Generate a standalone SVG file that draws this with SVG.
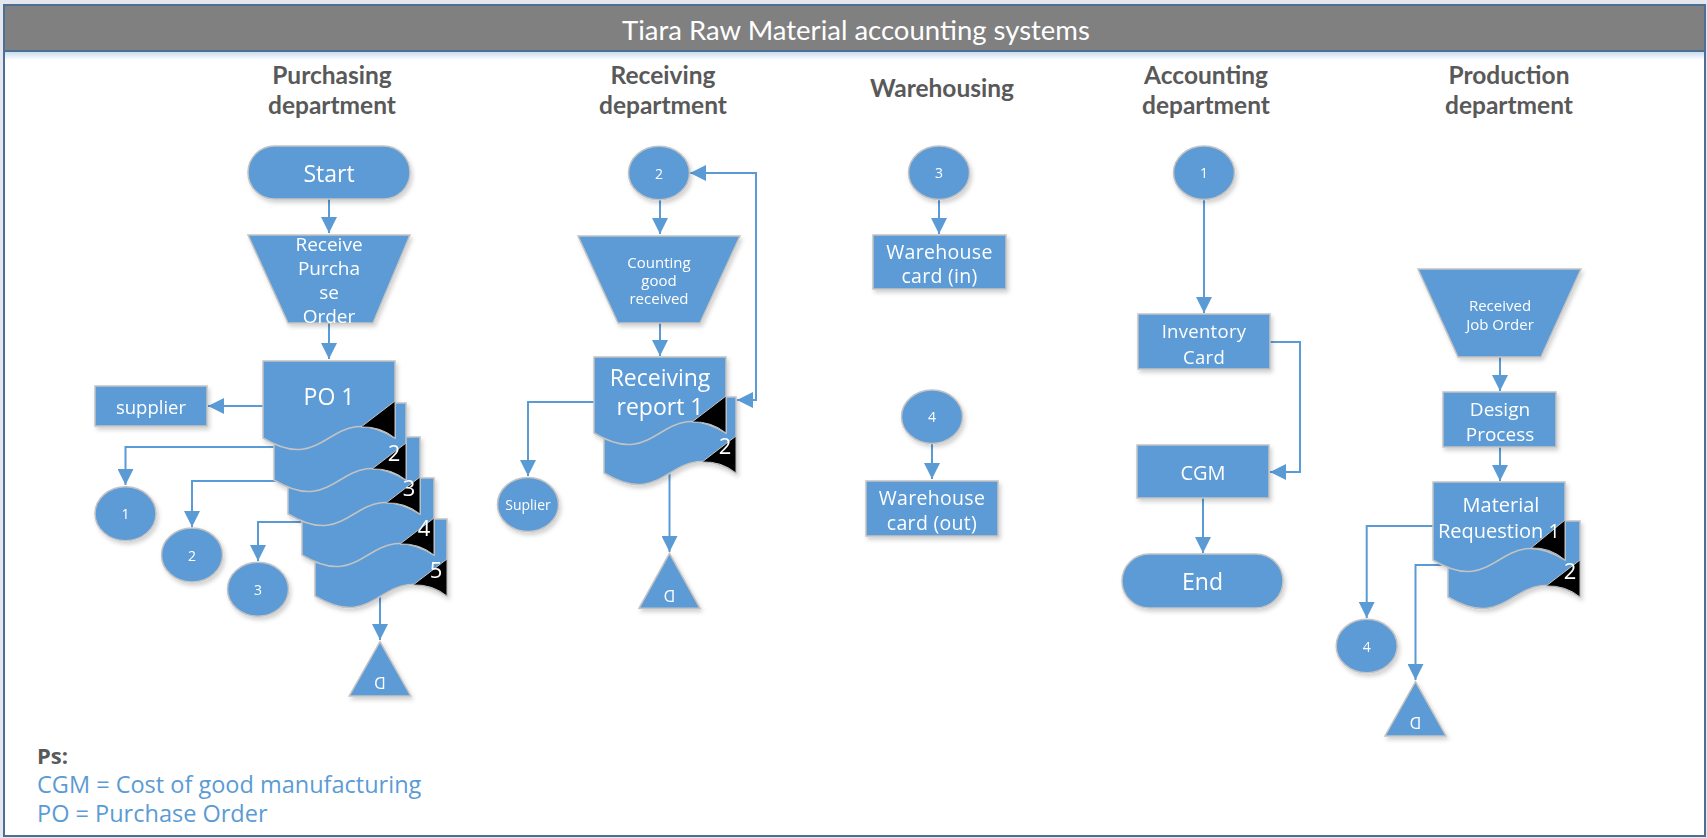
<svg xmlns="http://www.w3.org/2000/svg" width="1707" height="838" viewBox="0 0 1707 838">
<defs>
<style>
.n{fill:#5b9bd5;stroke:#c3c3c3;stroke-width:1.5}
.blk{fill:#000;stroke:#c3c3c3;stroke-width:1}
.t{font-family:"Open Sans","Noto Sans",sans-serif;fill:#fff;text-anchor:middle;dominant-baseline:central}
.bx{font-size:19.5px;letter-spacing:0.3px}
.h{font-family:Lato,"Liberation Sans",sans-serif;font-weight:bold;fill:#595959;text-anchor:middle;font-size:24.5px}
.c{fill:none;stroke:#5b9bd5;stroke-width:2}
.leg{font-family:"Open Sans","Noto Sans",sans-serif;font-size:23.5px;fill:#5b9bd5}
</style>
<marker id="ah" markerUnits="userSpaceOnUse" markerWidth="16" markerHeight="16" refX="14" refY="7" orient="auto-start-reverse" viewBox="0 0 14 14">
<path d="M0,0 L14,7 L0,14 Z" fill="#5b9bd5"/>
</marker>
<filter id="sh" x="-20%" y="-20%" width="140%" height="140%">
<feDropShadow dx="2" dy="3" stdDeviation="2" flood-color="#000" flood-opacity="0.18"/>
</filter>
<linearGradient id="gl" x1="0" y1="0" x2="0" y2="1">
<stop offset="0" stop-color="#c9dcf0"/>
<stop offset="1" stop-color="#ffffff"/>
</linearGradient>
</defs>

<rect x="0" y="0" width="1707" height="838" fill="#e4e8ee"/>
<rect x="4" y="5" width="1701" height="831" fill="#fff" stroke="#4e6f94" stroke-width="2"/>
<rect x="4" y="5" width="1701" height="46" fill="#808080" stroke="#4e6f94" stroke-width="2"/>
<rect x="5" y="52" width="1699" height="8" fill="url(#gl)"/>
<text x="856" y="29" font-family="Lato,'Liberation Sans',sans-serif" font-size="27.5" fill="#fff" text-anchor="middle" dominant-baseline="central">Tiara Raw Material accounting systems</text>

<g id="headers">
<text class="h" x="332" y="84">Purchasing</text>
<text class="h" x="332" y="114">department</text>
<text class="h" x="663" y="84">Receiving</text>
<text class="h" x="663" y="114">department</text>
<text class="h" x="942" y="97">Warehousing</text>
<text class="h" x="1206" y="84">Accounting</text>
<text class="h" x="1206" y="114">department</text>
<text class="h" x="1509" y="84">Production</text>
<text class="h" x="1509" y="114">department</text>
</g>

<g id="connectors">
<path class="c" d="M329,199 V233" marker-end="url(#ah)"/>
<path class="c" d="M329,323 V359" marker-end="url(#ah)"/>
<path class="c" d="M263,406 H208" marker-end="url(#ah)"/>
<path class="c" d="M274,447 H125.5 V485" marker-end="url(#ah)"/>
<path class="c" d="M288,481 H192 V527" marker-end="url(#ah)"/>
<path class="c" d="M302,522 H258 V561" marker-end="url(#ah)"/>
<path class="c" d="M380,596 V640" marker-end="url(#ah)"/>
<path class="c" d="M660,199 V234" marker-end="url(#ah)"/>
<path class="c" d="M660,323 V356" marker-end="url(#ah)"/>
<path class="c" d="M594,402 H528 V476" marker-end="url(#ah)"/>
<path class="c" d="M669.5,473 V552" marker-end="url(#ah)"/>
<path class="c" d="M737,400 H756 V173 H690" marker-start="url(#ah)" marker-end="url(#ah)"/>
<path class="c" d="M939,199 V234" marker-end="url(#ah)"/>
<path class="c" d="M932,443 V479" marker-end="url(#ah)"/>
<path class="c" d="M1204,199 V313" marker-end="url(#ah)"/>
<path class="c" d="M1270,342 H1300 V472 H1270" marker-end="url(#ah)"/>
<path class="c" d="M1203,498 V553" marker-end="url(#ah)"/>
<path class="c" d="M1500,357 V391" marker-end="url(#ah)"/>
<path class="c" d="M1500,447 V481" marker-end="url(#ah)"/>
<path class="c" d="M1433,526 H1366.7 V618" marker-end="url(#ah)"/>
<path class="c" d="M1448,565 H1415.5 V680" marker-end="url(#ah)"/>
</g>

<g id="start" filter="url(#sh)">
<rect class="n" x="248" y="146" width="162" height="53" rx="26.5"/>
<text class="t" x="329" y="172.5" font-size="23">Start</text>
</g>

<g id="receive-po" filter="url(#sh)">
<path class="n" d="M248,235 H410 L373,323 H288 Z"/>
<text class="t" font-size="19"><tspan x="329" y="244">Receive</tspan><tspan x="329" y="268">Purcha</tspan><tspan x="329" y="292">se</tspan><tspan x="329" y="316">Order</tspan></text>
</g>

<g id="po-stack" filter="url(#sh)">
<path class="n" d="M315,519 H447 V596 C381,556 381,636 315,596 Z"/>
<path class="blk" d="M447,559 L413,585 Q432,584 447,596 Z"/>
<text class="t" x="436" y="569" font-size="22">5</text>
<path class="n" d="M302,478 H434 V555 C368,515 368,595 302,555 Z"/>
<path class="blk" d="M434,518 L400,544 Q419,543 434,555 Z"/>
<text class="t" x="424" y="527" font-size="22">4</text>
<path class="n" d="M288,437 H420 V514 C354,474 354,554 288,514 Z"/>
<path class="blk" d="M420,477 L386,503 Q405,502 420,514 Z"/>
<text class="t" x="409" y="487" font-size="22">3</text>
<path class="n" d="M274,403 H406 V480 C340,440 340,520 274,480 Z"/>
<path class="blk" d="M406,443 L372,469 Q391,468 406,480 Z"/>
<text class="t" x="394" y="452" font-size="22">2</text>
<path class="n" d="M263,361 H395 V438 C329,398 329,478 263,438 Z"/>
<path class="blk" d="M395,401 L361,427 Q380,426 395,438 Z"/>
<text class="t" x="329" y="396" font-size="23">PO 1</text>
</g>

<g id="supplier" filter="url(#sh)">
<rect class="n" x="95" y="386" width="112" height="40"/>
<text class="t" x="151" y="406" font-size="18.5">supplier</text>
</g>

<g id="conn-p1" filter="url(#sh)">
<ellipse class="n" cx="125.5" cy="513.7" rx="30.5" ry="27"/>
<text class="t" x="125.5" y="513.7" font-size="14">1</text>
</g>
<g id="conn-p2" filter="url(#sh)">
<ellipse class="n" cx="192" cy="555" rx="30.5" ry="27"/>
<text class="t" x="192" y="555" font-size="14">2</text>
</g>
<g id="conn-p3" filter="url(#sh)">
<ellipse class="n" cx="258" cy="589.3" rx="30.5" ry="27"/>
<text class="t" x="258" y="589.3" font-size="14">3</text>
</g>

<g id="store-p" filter="url(#sh)">
<path class="n" d="M380,641.7 L410.7,696 H349.3 Z"/>
<text class="t" x="380" y="683" font-size="16" transform="rotate(180 380 683)">D</text>
</g>

<g id="conn-r2" filter="url(#sh)">
<ellipse class="n" cx="659" cy="173" rx="30.5" ry="26.7"/>
<text class="t" x="659" y="173" font-size="14">2</text>
</g>

<g id="counting" filter="url(#sh)">
<path class="n" d="M578,236 H740 L700,323 H618 Z"/>
<text class="t" font-size="15"><tspan x="659" y="262">Counting</tspan><tspan x="659" y="280">good</tspan><tspan x="659" y="298">received</tspan></text>
</g>

<g id="receiving-report" filter="url(#sh)">
<path class="n" d="M604,397 H736 V473 C670,433 670,513 604,473 Z"/>
<path class="blk" d="M736,436 L702,462 Q721,461 736,473 Z"/>
<text class="t" x="725" y="445" font-size="22">2</text>
<path class="n" d="M594,357 H726 V433 C660,393 660,473 594,433 Z"/>
<path class="blk" d="M726,396 L692,422 Q711,421 726,433 Z"/>
<text class="t" font-size="23"><tspan x="660" y="377">Receiving</tspan><tspan x="660" y="406">report 1</tspan></text>
</g>

<g id="suplier" filter="url(#sh)">
<ellipse class="n" cx="528" cy="504.5" rx="30.5" ry="27"/>
<text class="t" x="528" y="504.5" font-size="14">Suplier</text>
</g>

<g id="store-r" filter="url(#sh)">
<path class="n" d="M669.5,553.3 L700,608.3 H639 Z"/>
<text class="t" x="669.5" y="596" font-size="16" transform="rotate(180 669.5 596)">D</text>
</g>

<g id="conn-w3" filter="url(#sh)">
<ellipse class="n" cx="939" cy="172.7" rx="30.5" ry="26.7"/>
<text class="t" x="939" y="172.7" font-size="14">3</text>
</g>
<g id="wh-in" filter="url(#sh)">
<rect class="n" x="873" y="235" width="133" height="54"/>
<text class="t bx"><tspan x="939.5" y="251">Warehouse</tspan><tspan x="939.5" y="275">card (in)</tspan></text>
</g>
<g id="conn-w4" filter="url(#sh)">
<ellipse class="n" cx="932" cy="416.7" rx="30.5" ry="26.7"/>
<text class="t" x="932" y="416.7" font-size="14">4</text>
</g>
<g id="wh-out" filter="url(#sh)">
<rect class="n" x="866" y="481" width="132" height="55"/>
<text class="t bx"><tspan x="932" y="497">Warehouse</tspan><tspan x="932" y="522">card (out)</tspan></text>
</g>

<g id="conn-a1" filter="url(#sh)">
<ellipse class="n" cx="1204" cy="172.7" rx="30.5" ry="26.7"/>
<text class="t" x="1204" y="172.7" font-size="14">1</text>
</g>
<g id="inventory" filter="url(#sh)">
<rect class="n" x="1138" y="314" width="132" height="55"/>
<text class="t" font-size="18.5" letter-spacing="0.3"><tspan x="1204" y="329.5">Inventory</tspan><tspan x="1204" y="356">Card</tspan></text>
</g>
<g id="cgm" filter="url(#sh)">
<rect class="n" x="1137" y="445" width="132" height="53"/>
<text class="t" x="1203" y="472.5" font-size="20">CGM</text>
</g>
<g id="end" filter="url(#sh)">
<rect class="n" x="1122" y="554" width="161" height="54" rx="27"/>
<text class="t" x="1202.5" y="581" font-size="23">End</text>
</g>

<g id="job-order" filter="url(#sh)">
<path class="n" d="M1418,269 H1581 L1541,357 H1458 Z"/>
<text class="t" font-size="15"><tspan x="1500" y="305">Received</tspan><tspan x="1500" y="324">Job Order</tspan></text>
</g>
<g id="design" filter="url(#sh)">
<rect class="n" x="1443" y="392" width="113" height="55"/>
<text class="t" font-size="19"><tspan x="1500" y="408.5">Design</tspan><tspan x="1500" y="433.5">Process</tspan></text>
</g>
<g id="material-req" filter="url(#sh)">
<path class="n" d="M1448,521 H1580 V597 C1514,557 1514,637 1448,597 Z"/>
<path class="blk" d="M1580,560 L1546,586 Q1565,585 1580,597 Z"/>
<text class="t" x="1570" y="570" font-size="22">2</text>
<path class="n" d="M1433,482 H1565 V560 C1499,520 1499,600 1433,560 Z"/>
<path class="blk" d="M1565,520 L1531,548 Q1550,547 1565,560 Z"/>
<text class="t" font-size="20"><tspan x="1501" y="504">Material</tspan><tspan x="1499" y="529.5">Requestion 1</tspan></text>
</g>
<g id="conn-prod4" filter="url(#sh)">
<ellipse class="n" cx="1366.7" cy="646" rx="30.5" ry="26.7"/>
<text class="t" x="1366.7" y="646" font-size="14">4</text>
</g>
<g id="store-prod" filter="url(#sh)">
<path class="n" d="M1415.5,681.7 L1446,736 H1385 Z"/>
<text class="t" x="1415.5" y="723" font-size="16" transform="rotate(180 1415.5 723)">D</text>
</g>

<g id="legend">
<text x="37" y="764" font-family="'Open Sans','Noto Sans',sans-serif" font-weight="bold" font-size="22" fill="#595959">Ps:</text>
<text class="leg" x="37" y="793">CGM = Cost of good manufacturing</text>
<text class="leg" x="37" y="822">PO = Purchase Order</text>
</g>
</svg>
